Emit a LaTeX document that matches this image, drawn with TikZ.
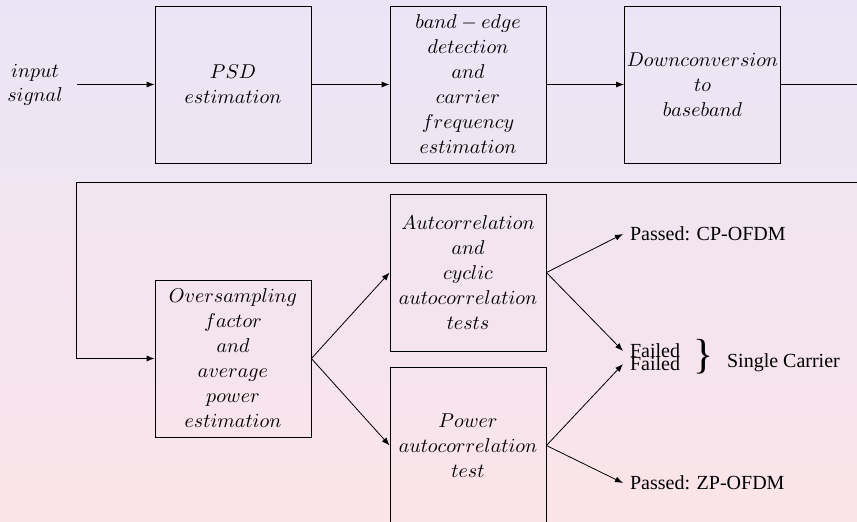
\documentclass[tikz,border=0pt]{standalone}
\usepackage{amsmath,amssymb}
\usepackage{fontspec}
\newfontfamily\resfont{Liberation Serif}
\usetikzlibrary{arrows.meta,positioning,calc}
\definecolor{bgtop}{RGB}{234,229,246}
\definecolor{bgbot}{RGB}{251,228,233}
\tikzset{
  block/.style={draw, rectangle, minimum width=78pt, minimum height=78.5pt,
    inner sep=0pt, align=center, font=\fontsize{10}{12.5}\selectfont},
  result/.style={font=\resfont, anchor=west}
}

\begin{document}
\begin{tikzpicture}[x=0.5pt,y=-0.5pt,>={Latex[length=4pt,width=3pt]}]
    % Frame and background
    \useasboundingbox (0,0) rectangle (857,521);
    \clip (0,0) rectangle (857,521);
    \shade[top color=bgtop, bottom color=bgbot] (0,0) rectangle (857,521);

    % Top row
    \node[align=center, inner sep=7pt] (input) at (35,84.5) {$input$\\$signal$};
    \node[block] (psd) at (233,84.5) {$PSD$\\$estimation$};
    \node[block] (band) at (468,84.5) {$band-edge$\\$detection$\\$and$\\$carrier$\\$frequency$\\$estimation$};
    \node[block] (down) at (702.5,84.5) {$Downconversion$\\$to$\\$baseband$};

    % Bottom row
    \node[block] (osf) at (233,358.5) {$Oversampling$\\$factor$\\$and$\\$average$\\$power$\\$estimation$};
    \node[block] (acorr) at (468,272.5) {$Autcorrelation$\\$and$\\$cyclic$\\$autocorrelation$\\$tests$};
    \node[block] (pcorr) at (468,445.5) {$Power$\\$autocorrelation$\\$test$};

    % Decisions
    \node[result] (cp) at (623,234) {Passed: CP-OFDM};
    \node[result] (failA) at (623,351) {Failed};
    \node[result] (failB) at (623,364) {Failed};
    \node[result] (zp) at (623,483) {Passed: ZP-OFDM};
    \node[inner sep=0pt, font=\resfont\fontsize{21}{21}\selectfont] (brace) at (704,357) {\}};
    \node[result] (single) at (720,363) {Single Carrier};

    % Feedback path
    \coordinate (turnA) at (880,84.5);
    \coordinate (turnB) at (880,182);
    \coordinate (back) at (76,182);

    % Connectors
    \draw[->] (input) -- (psd);
    \draw[->] (psd) -- (band);
    \draw[->] (band) -- (down);
    \draw[->] (down.east) -- (turnA) -- (turnB) -- (back) |- (osf.west);
    \draw[->] (osf.east) -- (acorr.west);
    \draw[->] (osf.east) -- (pcorr.west);
    \draw[->] (acorr.east) -- (cp.west);
    \draw[->] (acorr.east) -- (failA.west);
    \draw[->] (pcorr.east) -- (failB.west);
    \draw[->] (pcorr.east) -- (zp.west);
\end{tikzpicture}
\end{document}
